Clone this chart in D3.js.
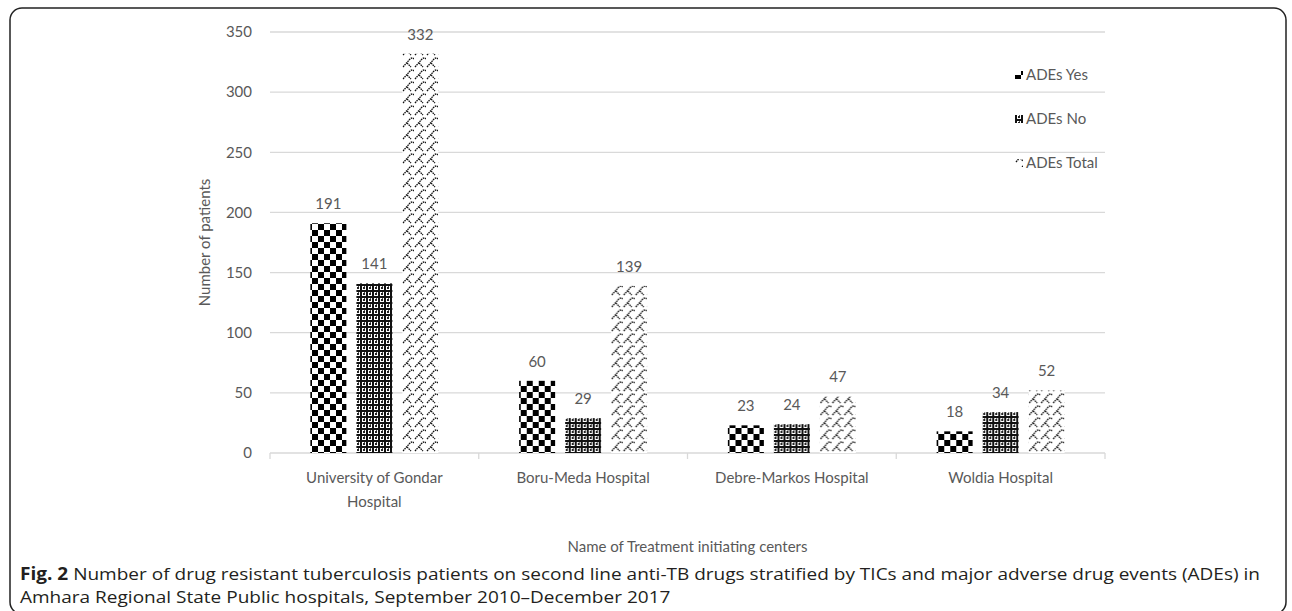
<!DOCTYPE html>
<html>
<head>
<meta charset="utf-8">
<script src="https://cdn.jsdelivr.net/npm/d3@7"></script>
<style>
  body { margin: 0; background: #fff; }
  svg text { font-family: Lato, "Open Sans", sans-serif; }
</style>
</head>
<body>
<div id="chart"></div>
<script>
const centers = ["University of Gondar Hospital", "Boru-Meda Hospital", "Debre-Markos Hospital", "Woldia Hospital"];
const centerLines = [["University of Gondar", "Hospital"], ["Boru-Meda Hospital"], ["Debre-Markos Hospital"], ["Woldia Hospital"]];
const seriesNames = ["ADEs Yes", "ADEs No", "ADEs Total"];
const adesYes = [191, 60, 23, 18];
const adesNo = [141, 29, 24, 34];
const adesTotal = [332, 139, 47, 52];
const yTicks = [0, 50, 100, 150, 200, 250, 300, 350];

const W = 1292, H = 611;
const margin = { top: 32, right: 187, bottom: 158, left: 270 };
const width = W - margin.left - margin.right;
const height = H - margin.top - margin.bottom;
const textColor = "#595959";
const gridColor = "#d9d9d9";

const svg = d3.select("#chart").append("svg")
    .attr("width", W)
    .attr("height", H);

// patterns
const defs = svg.append("defs");

let p1 = defs.append("pattern").attr("id", "pYes")
    .attr("patternUnits", "userSpaceOnUse").attr("width", 12).attr("height", 12);
p1.append("rect").attr("width", 12).attr("height", 12).attr("fill", "#fff");
p1.append("rect").attr("width", 6).attr("height", 6).attr("fill", "#000");
p1.append("rect").attr("x", 6).attr("y", 6).attr("width", 6).attr("height", 6).attr("fill", "#000");

let p2 = defs.append("pattern").attr("id", "pNo")
    .attr("patternUnits", "userSpaceOnUse").attr("width", 6).attr("height", 6);
p2.append("rect").attr("width", 6).attr("height", 6).attr("fill", "#fff");
p2.append("rect").attr("width", 2).attr("height", 6).attr("fill", "#111");
p2.append("rect").attr("width", 6).attr("height", 2).attr("fill", "#111");
p2.append("rect").attr("x", 3).attr("y", 3).attr("width", 2).attr("height", 2).attr("fill", "#222");
p2.append("rect").attr("x", 4).attr("y", 2).attr("width", 1).attr("height", 1).attr("fill", "#555");

let p3 = defs.append("pattern").attr("id", "pTotal")
    .attr("patternUnits", "userSpaceOnUse").attr("width", 12).attr("height", 12);
p3.append("rect").attr("width", 12).attr("height", 12).attr("fill", "#fff");
p3.append("path")
    .attr("d", "M1,11 L8,3 Q10,1 12,3 M5,7 L9,11")
    .attr("fill", "none")
    .attr("stroke", "#111")
    .attr("stroke-width", 1.3)
    .attr("stroke-dasharray", "1.6,0.7");

const patternIds = ["url(#pYes)", "url(#pNo)", "url(#pTotal)"];

// frame
svg.append("rect")
    .attr("x", 10).attr("y", 8)
    .attr("width", 1276).attr("height", 606)
    .attr("rx", 12)
    .attr("fill", "none")
    .attr("stroke", "#222")
    .attr("stroke-width", 1.5);

const g = svg.append("g")
    .attr("transform", "translate(" + margin.left + "," + margin.top + ")");

const x = d3.scaleBand().domain(centers).range([0, width]).padding(0);
const y = d3.scaleLinear().domain([0, 350]).range([height, 0]);

// gridlines
g.append("g").selectAll("line")
    .data(yTicks.filter(d => d > 0))
    .enter().append("line")
    .attr("x1", 0).attr("x2", width)
    .attr("y1", d => y(d)).attr("y2", d => y(d))
    .attr("stroke", gridColor).attr("stroke-width", 1.3);

// y axis labels
const yAxis = g.append("g")
    .attr("transform", "translate(-18,0)")
    .call(d3.axisLeft(y).tickValues(yTicks).tickSize(0).tickPadding(0));
yAxis.select(".domain").remove();
yAxis.selectAll("text")
    .attr("fill", textColor)
    .style("font-size", "15px");

// x axis
const xAxis = g.append("g")
    .attr("transform", "translate(0," + height + ")");
xAxis.append("line")
    .attr("x1", 0).attr("x2", width)
    .attr("stroke", gridColor).attr("stroke-width", 1.3);
xAxis.selectAll(".tk")
    .data(d3.range(centers.length + 1))
    .enter().append("line")
    .attr("x1", i => i * x.bandwidth()).attr("x2", i => i * x.bandwidth())
    .attr("y1", 0).attr("y2", 6)
    .attr("stroke", gridColor).attr("stroke-width", 1.3);

const catLabels = xAxis.selectAll(".cat")
    .data(centers)
    .enter().append("text")
    .attr("x", d => x(d) + x.bandwidth() / 2)
    .attr("y", 30)
    .attr("text-anchor", "middle")
    .attr("fill", textColor)
    .style("font-size", "15px");
catLabels.each(function (d, i) {
    d3.select(this).selectAll("tspan")
        .data(centerLines[i])
        .enter().append("tspan")
        .attr("x", x(d) + x.bandwidth() / 2)
        .attr("dy", (t, j) => j === 0 ? 0 : 24)
        .text(t => t);
});

// bars
const seriesData = [adesYes, adesNo, adesTotal];
const xs = d3.scaleBand().domain(seriesNames)
    .range([x.bandwidth() / 2 - 64, x.bandwidth() / 2 + 64])
    .paddingInner(0.2174);

const groups = g.selectAll(".grp")
    .data(centers)
    .enter().append("g")
    .attr("class", "grp")
    .attr("transform", d => "translate(" + x(d) + ",0)");

seriesNames.forEach((s, si) => {
    groups.append("rect")
        .attr("x", xs(s))
        .attr("y", (d, i) => y(seriesData[si][i]))
        .attr("width", xs.bandwidth())
        .attr("height", (d, i) => height - y(seriesData[si][i]))
        .attr("fill", patternIds[si]);

    groups.append("text")
        .attr("x", xs(s) + xs.bandwidth() / 2)
        .attr("y", (d, i) => y(seriesData[si][i]) - 14)
        .attr("text-anchor", "middle")
        .attr("fill", textColor)
        .style("font-size", "15px")
        .text((d, i) => seriesData[si][i]);
});

// axis titles
g.append("text")
    .attr("transform", "rotate(-90)")
    .attr("x", -height / 2)
    .attr("y", -60)
    .attr("text-anchor", "middle")
    .attr("fill", textColor)
    .style("font-size", "15px")
    .text("Number of patients");

g.append("text")
    .attr("x", width / 2)
    .attr("y", height + 99)
    .attr("text-anchor", "middle")
    .attr("fill", textColor)
    .style("font-size", "15px")
    .text("Name of Treatment initiating centers");

// legend
const legend = svg.append("g")
    .attr("transform", "translate(1015,75)");
seriesNames.forEach((s, i) => {
    const row = legend.append("g").attr("transform", "translate(0," + (i * 44) + ")");
    row.append("rect")
        .attr("x", 0).attr("y", -4)
        .attr("width", 8).attr("height", 8)
        .attr("fill", patternIds[i]);
    row.append("text")
        .attr("x", 11).attr("y", 5)
        .attr("fill", textColor)
        .style("font-size", "15px")
        .text(s);
});

// caption - squeeze both lines by the same ratio so line 1 fills the width
const capStyle = sel => sel
    .attr("fill", "#231f20")
    .style("font-family", "'Open Sans', sans-serif")
    .style("font-size", "17px");

const cap1 = svg.append("text").attr("x", 20).attr("y", 580).call(capStyle);
cap1.append("tspan").attr("font-weight", "bold").text("Fig. 2");
cap1.append("tspan").text(" Number of drug resistant tuberculosis patients on second line anti-TB drugs stratified by TICs and major adverse drug events (ADEs) in");

const cap2 = svg.append("text").attr("x", 20).attr("y", 603).call(capStyle)
    .text("Amhara Regional State Public hospitals, September 2010\u2013December 2017");

const ratio = 1240 / cap1.node().getComputedTextLength();
cap1.attr("textLength", cap1.node().getComputedTextLength() * ratio).attr("lengthAdjust", "spacingAndGlyphs");
cap2.attr("textLength", cap2.node().getComputedTextLength() * ratio).attr("lengthAdjust", "spacingAndGlyphs");
</script>
</body>
</html>
